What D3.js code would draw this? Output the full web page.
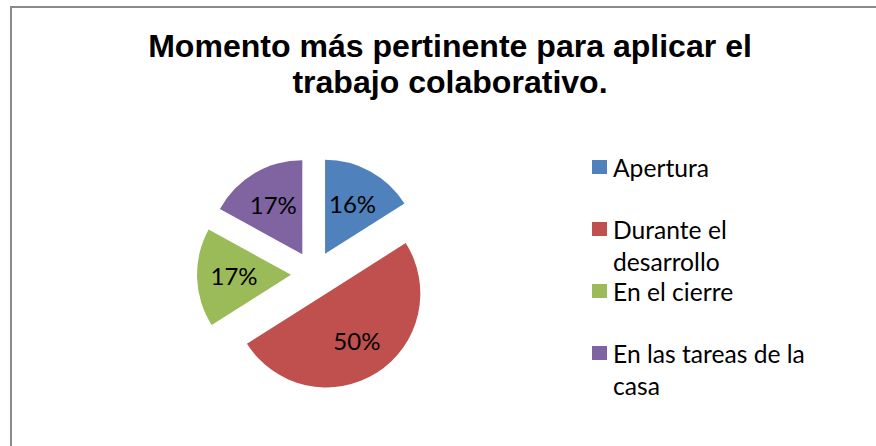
<!DOCTYPE html>
<html>
<head>
<meta charset="utf-8">
<script src="https://cdn.jsdelivr.net/npm/d3@7"></script>
<style>
  html, body { margin: 0; padding: 0; background: #fff; }
  svg { display: block; }
</style>
</head>
<body>
<svg id="chart" width="876" height="446"></svg>
<script>
// ---- data ----
const titleLines = ["Momento más pertinente para aplicar el", "trabajo colaborativo."];
const categories = ["Apertura", "Durante el desarrollo", "En el cierre", "En las tareas de la casa"];
const legendLines = [["Apertura"], ["Durante el", "desarrollo"], ["En el cierre"], ["En las tareas de la", "casa"]];
const values = [16, 50, 17, 17];
const colors = ["#4F81BD", "#C0504D", "#9BBB59", "#8064A2"];

// ---- layout ----
const W = 876, H = 446;
const svg = d3.select("#chart");
const bodyFont = "Lato, 'Open Sans', sans-serif";
const titleFont = "'Liberation Sans', Arial, sans-serif";

// frame
svg.append("rect")
  .attr("x", 11).attr("y", 7)
  .attr("width", W + 20).attr("height", H + 20)
  .attr("fill", "#fff")
  .attr("stroke", "#8a8a8a")
  .attr("stroke-width", 2);

// helper: font size so that text fits a target width
function fitSize(text, family, weight, target) {
  const t = svg.append("text")
    .attr("font-family", family).attr("font-weight", weight)
    .attr("font-size", 100).text(text);
  const w = t.node().getComputedTextLength();
  t.remove();
  return 100 * target / w;
}

// title
const titleSize = fitSize(titleLines[0], titleFont, "bold", 604);
svg.append("text")
  .attr("font-family", titleFont)
  .attr("font-weight", "bold")
  .attr("font-size", titleSize)
  .attr("text-anchor", "middle")
  .attr("fill", "#000")
  .selectAll("tspan").data(titleLines).join("tspan")
  .attr("x", 450)
  .attr("y", (d, i) => 57 + i * 36)
  .text(d => d);

// pie
const cx = 314, cy = 274, R = 94, explode = 23;
const pie = d3.pie().sort(null).value(d => d)(values);
const arc = d3.arc().innerRadius(0).outerRadius(R);
const labelArc = d3.arc().innerRadius(57).outerRadius(57);
const labelSize = 24;

const g = svg.append("g").attr("transform", `translate(${cx},${cy})`);
const slices = g.selectAll("g.slice").data(pie).join("g")
  .attr("class", "slice")
  .attr("transform", d => {
    const a = (d.startAngle + d.endAngle) / 2;
    return `translate(${explode * Math.sin(a)},${-explode * Math.cos(a)})`;
  });

slices.append("path")
  .attr("d", arc)
  .attr("fill", (d, i) => colors[i]);

slices.append("text")
  .attr("transform", d => `translate(${labelArc.centroid(d)})`)
  .attr("text-anchor", "middle")
  .attr("dy", "0.36em")
  .attr("font-family", bodyFont)
  .attr("font-size", labelSize)
  .attr("fill", "#000")
  .text(d => d.data + "%");

// legend
const legendSize = fitSize("En las tareas de la", bodyFont, "normal", 192);
const legendBaselines = [177, 239, 301, 363];
const lg = svg.append("g");
const items = lg.selectAll("g.item").data(categories).join("g").attr("class", "item");
items.append("rect")
  .attr("x", 592)
  .attr("y", (d, i) => legendBaselines[i] - 17)
  .attr("width", 15).attr("height", 14)
  .attr("fill", (d, i) => colors[i]);
items.append("text")
  .attr("font-family", bodyFont)
  .attr("font-size", legendSize)
  .attr("fill", "#000")
  .selectAll("tspan").data((d, i) => legendLines[i].map(l => ({ l, i }))).join("tspan")
  .attr("x", 613)
  .attr("y", (d, j) => legendBaselines[d.i] + j * 32)
  .text(d => d.l);
</script>
</body>
</html>
